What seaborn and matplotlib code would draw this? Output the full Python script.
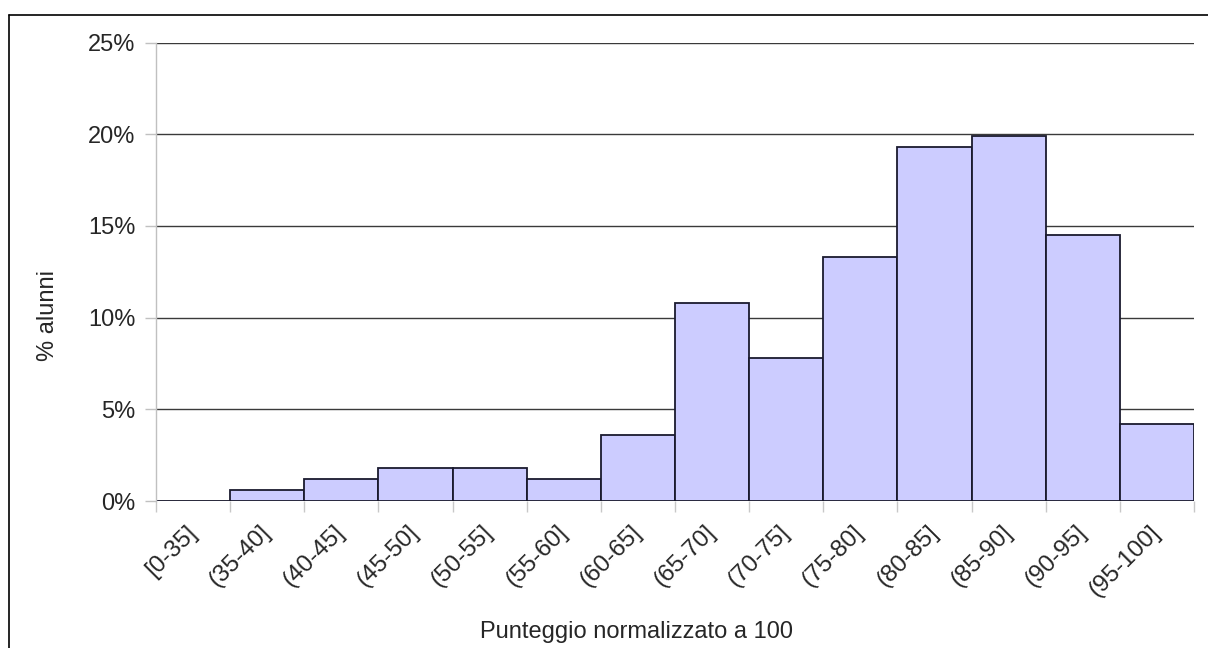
import pandas as pd
import seaborn as sns
import matplotlib.pyplot as plt
from matplotlib.lines import Line2D
from matplotlib.ticker import FuncFormatter

# data (percent of students per score band)
bands = ["[0-35]", "(35-40]", "(40-45]", "(45-50]", "(50-55]", "(55-60]", "(60-65]",
         "(65-70]", "(70-75]", "(75-80]", "(80-85]", "(85-90]", "(90-95]", "(95-100]"]
pct = [0.0, 0.6, 1.2, 1.8, 1.8, 1.2, 3.6, 10.8, 7.8, 13.3, 19.3, 19.9, 14.5, 4.2]
y_ticks = [0, 5, 10, 15, 20, 25]

df = pd.DataFrame({"fascia": bands, "pct": pct})

sns.set_style("white")
plt.rcParams["font.family"] = ["Liberation Sans", "DejaVu Sans"]

fig = plt.figure(figsize=(12.08, 6.48), dpi=100)
ax = fig.add_axes([156 / 1208, 1 - 501 / 648, (1194 - 156) / 1208, (501 - 42.5) / 648])

sns.barplot(data=df, x="fascia", y="pct", color="#ccccff", saturation=1,
            edgecolor="#1a1a2e", linewidth=1.3, width=1.0, ax=ax)

ax.set_xlim(-0.5, len(bands) - 0.5)
ax.set_ylim(0, 25)
ax.set_yticks(y_ticks)
ax.yaxis.set_major_formatter(FuncFormatter(lambda v, p: f"{v:.0f}%"))
ax.set_axisbelow(True)
ax.yaxis.grid(True, color="#3a3a3a", linewidth=1)
ax.xaxis.grid(False)

for s in ["top", "right", "bottom"]:
    ax.spines[s].set_visible(False)
ax.spines["left"].set_color("#c0c0c0")
ax.spines["left"].set_linewidth(1)

ax.tick_params(axis="y", length=8, width=1, color="#c0c0c0", pad=7, labelsize=17, left=True)
ax.set_xticks([i - 0.5 for i in range(len(bands) + 1)], minor=True)
ax.tick_params(axis="x", which="minor", length=8, width=1, color="#c8c8c8", bottom=True)
ax.tick_params(axis="x", which="major", length=0, pad=20, labelsize=17.5)
ax.set_xticks(range(len(bands)))
ax.set_xticklabels(bands, rotation=45, ha="right", rotation_mode="anchor", va="center")

ax.set_xlabel("")
ax.set_ylabel("")
fig.text(636 / 1208, 1 - 632 / 648, "Punteggio normalizzato a 100", ha="center", va="center", fontsize=17)
fig.text(48 / 1208, 1 - 315 / 648, "% alunni", ha="center", va="center", rotation=90, fontsize=17)

# outer frame (only left and top edges visible in the reference)
fig.add_artist(Line2D([9 / 1208, 9 / 1208], [0, 1 - 15 / 648], transform=fig.transFigure, color="black", lw=1.2))
fig.add_artist(Line2D([9 / 1208, 1], [1 - 15 / 648, 1 - 15 / 648], transform=fig.transFigure, color="black", lw=1.2))

fig.savefig("out.png", dpi=100)
